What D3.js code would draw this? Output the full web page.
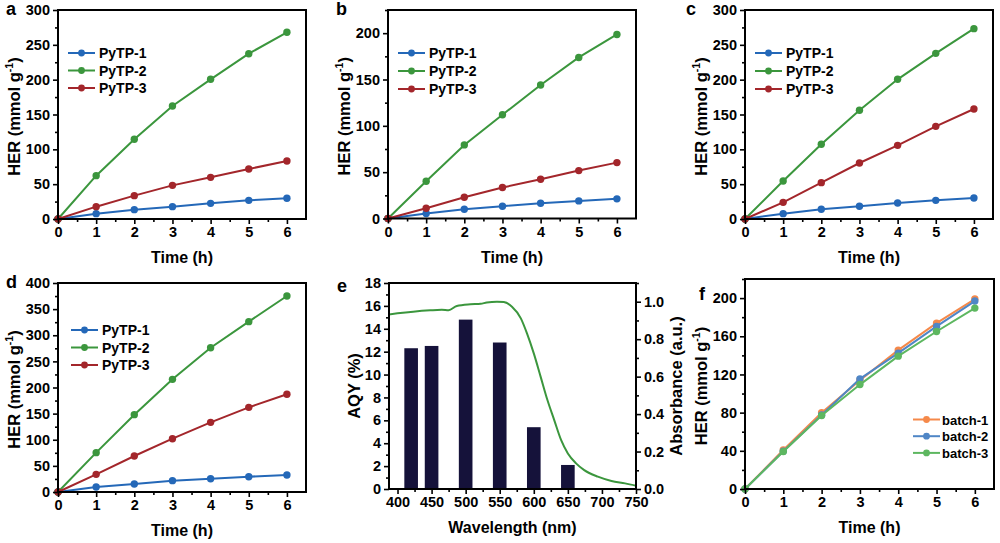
<!DOCTYPE html>
<html><head><meta charset="utf-8">
<script src="https://cdn.jsdelivr.net/npm/d3@7"></script>
<style>
body{margin:0;background:#fff;}
svg{font-family:"Liberation Sans",Arial,sans-serif;font-weight:bold;}
</style></head>
<body>
<svg id="c" width="1000" height="543"></svg>
<script>
const time = [0,1,2,3,4,5,6];
const seriesNames = ["PyTP-1","PyTP-2","PyTP-3"];
const aPyTP1 = [0,7.7,13.4,17.7,22.5,26.8,29.7];
const aPyTP2 = [0,62.2,114.4,162.2,200.5,237.3,268];
const aPyTP3 = [0,17.7,33.5,48.3,59.8,71.8,83.3];
const bPyTP1 = [0,5.4,10,13.3,16.5,19,21.2];
const bPyTP2 = [0,40.2,79.4,112,144,173.8,198.6];
const bPyTP3 = [0,11.1,23,33.4,42.4,51.7,60.3];
const cPyTP1 = [0,7.7,13.9,18.2,23,26.8,30.1];
const cPyTP2 = [0,54.5,107.2,156,200.5,237.8,273.2];
const cPyTP3 = [0,23.9,52.2,80.4,105.7,133,157.9];
const dPyTP1 = [0,9.6,15.3,21.7,25.5,29.3,32.5];
const dPyTP2 = [0,75.3,148,215.6,276.2,326,375.1];
const dPyTP3 = [0,33.8,68.9,102,133.3,162,187];
const batchNames = ["batch-1","batch-2","batch-3"];
const fBatch1 = [0,40.9,80,114,145.5,173.8,199];
const fBatch2 = [0,39.5,77.6,115.4,142.3,170.3,196.9];
const fBatch3 = [0,39.2,76.9,109.4,139.2,165,189.5];
const wavelengths = [420,450,500,550,600,650];
const aqy = [12.3,12.5,14.8,12.8,5.4,2.1];
const absWl = [387,400,423,448,465,475,487,507,522,531,546,556,568,581,590,600,610,620,630,640,650,662,674,694,714,734,752];
const absVal = [0.932,0.938,0.947,0.954,0.957,0.955,0.977,0.986,0.989,0.996,1.0,0.998,0.973,0.911,0.831,0.724,0.6,0.475,0.368,0.262,0.19,0.137,0.101,0.066,0.043,0.030,0.016];

const svg = d3.select("#c");
const colsPy = ["#2468b8","#3b963d","#a3262b"];
const colsBatch = ["#f5894a","#4f86c6","#5db760"];
const TICKF = "14.5px", TITLEF = "16px";

function frame(g, L, R, T, B){
  g.append("rect").attr("x",L).attr("y",T).attr("width",R-L).attr("height",B-T)
   .attr("fill","none").attr("stroke","#000").attr("stroke-width",2);
}
function styleText(sel){
  sel.attr("font-size",TICKF).attr("font-weight","bold").attr("fill","#000").attr("font-family","Liberation Sans, Arial");
}
function xAxis(g, x, B, ticks, minors){
  const ax = g.append("g").attr("transform",`translate(0,${B})`)
    .call(d3.axisBottom(x).tickValues(ticks).tickSize(5).tickPadding(3).tickFormat(d3.format("d")));
  ax.select(".domain").remove();
  ax.selectAll("line").attr("stroke-width",1.6);
  styleText(ax.selectAll("text"));
  const mx = g.append("g").attr("transform",`translate(0,${B})`)
    .call(d3.axisBottom(x).tickValues(minors).tickSize(3).tickFormat(""));
  mx.select(".domain").remove(); mx.selectAll("line").attr("stroke-width",1.6);
}
function yAxis(g, y, L, ticks, minors, fmt, right){
  const gen = right ? d3.axisRight(y) : d3.axisLeft(y);
  const ax = g.append("g").attr("transform",`translate(${L},0)`)
    .call(gen.tickValues(ticks).tickSize(5).tickPadding(3).tickFormat(fmt||d3.format("d")));
  ax.select(".domain").remove();
  ax.selectAll("line").attr("stroke-width",1.6);
  styleText(ax.selectAll("text"));
  const gen2 = right ? d3.axisRight(y) : d3.axisLeft(y);
  const mx = g.append("g").attr("transform",`translate(${L},0)`)
    .call(gen2.tickValues(minors).tickSize(3).tickFormat(""));
  mx.select(".domain").remove(); mx.selectAll("line").attr("stroke-width",1.6);
}
function herTitle(g, cx, cy){
  const t = g.append("text").attr("transform",`translate(${cx},${cy}) rotate(-90)`)
    .attr("text-anchor","middle").attr("font-size","16.5px");
  t.append("tspan").text("HER (mmol g");
  t.append("tspan").text("-1").attr("font-size","10.5px").attr("dy",-7);
  t.append("tspan").text(")").attr("dy",7);
}
function letter(g, s, x, y){
  g.append("text").attr("x",x).attr("y",y).attr("font-size","18px").text(s);
}

function linePanel(o){
  const g = svg.append("g");
  const x = d3.scaleLinear().domain([0,6.5]).range([o.L,o.R]);
  const y = d3.scaleLinear().domain([0,o.ymax]).range([o.B,o.T]);
  const line = d3.line().x((d,i)=>x(time[i])).y(d=>y(d));
  o.series.forEach((s,k)=>{
    g.append("path").attr("d",line(s)).attr("fill","none").attr("stroke",o.cols[k]).attr("stroke-width",2);
    g.selectAll(null).data(s).enter().append("circle")
      .attr("cx",(d,i)=>x(time[i])).attr("cy",d=>y(d)).attr("r",3.7).attr("fill",o.cols[k]);
  });
  frame(g,o.L,o.R,o.T,o.B);
  xAxis(g,x,o.B,[0,1,2,3,4,5,6],[0.5,1.5,2.5,3.5,4.5,5.5]);
  yAxis(g,y,o.L,o.yt,o.ym);
  g.append("text").attr("x",(o.L+o.R)/2).attr("y",o.B+44).attr("text-anchor","middle").attr("font-size",TITLEF).text("Time (h)");
  herTitle(g,o.L-38,(o.T+o.B)/2+2);
  o.names.forEach((n,k)=>{
    const ly = o.ly + k*o.lstep;
    g.append("line").attr("x1",o.lx).attr("x2",o.lx+27).attr("y1",ly).attr("y2",ly).attr("stroke",o.cols[k]).attr("stroke-width",2);
    g.append("circle").attr("cx",o.lx+13.5).attr("cy",ly).attr("r",3.4).attr("fill",o.cols[k]);
    g.append("text").attr("x",o.lx+(o.lgap||31)).attr("y",ly+5).attr("font-size",o.lf||"14px").text(n);
  });
  letter(g,o.letter,o.lX,o.lY);
}

const r = (a,b,s)=>d3.range(a,b+1e-9,s);
linePanel({L:58,R:306,T:10,B:219,ymax:300,yt:r(0,300,50),ym:r(25,275,50),series:[aPyTP1,aPyTP2,aPyTP3],cols:colsPy,names:seriesNames,lx:68,ly:53,lstep:17.5,letter:"a",lX:6,lY:15});
linePanel({L:388,R:636,T:10,B:218.5,ymax:225,yt:r(0,200,50),ym:r(25,225,50),series:[bPyTP1,bPyTP2,bPyTP3],cols:colsPy,names:seriesNames,lx:398,ly:53,lstep:18,letter:"b",lX:336,lY:15});
linePanel({L:745,R:993,T:10,B:219,ymax:300,yt:r(0,300,50),ym:r(25,275,50),series:[cPyTP1,cPyTP2,cPyTP3],cols:colsPy,names:seriesNames,lx:755,ly:53,lstep:18,letter:"c",lX:686,lY:15});
linePanel({L:58,R:306,T:283,B:492,ymax:400,yt:r(0,400,50),ym:r(25,375,50),series:[dPyTP1,dPyTP2,dPyTP3],cols:colsPy,names:seriesNames,lx:71,ly:330,lstep:17.5,letter:"d",lX:6,lY:288});
linePanel({L:745,R:994,T:279,B:489,ymax:220,yt:r(0,200,40),ym:r(20,220,40),series:[fBatch1,fBatch2,fBatch3],cols:colsBatch,names:batchNames,lx:913,ly:419.5,lstep:16.7,lf:"13px",lgap:29,letter:"f",lX:699,lY:300});

(function(){
  const L=389,R=636,T=283,B=489;
  const g = svg.append("g");
  const x = d3.scaleLinear().domain([387.5,750]).range([L,R]);
  const yL = d3.scaleLinear().domain([0,18]).range([B,T]);
  const yR = d3.scaleLinear().domain([0,1.1]).range([B,T]);
  const bw = x(430)-x(410);
  g.selectAll(null).data(aqy).enter().append("rect")
    .attr("x",(d,i)=>x(wavelengths[i])-bw/2).attr("width",bw)
    .attr("y",d=>yL(d)).attr("height",d=>B-yL(d)).attr("fill","#15123a");
  const pts = absWl.map((w,i)=>[w,absVal[i]]);
  g.append("defs").append("clipPath").attr("id","ce").append("rect").attr("x",L).attr("y",T).attr("width",R-L).attr("height",B-T);
  g.append("path").attr("clip-path","url(#ce)")
    .attr("d",d3.line().curve(d3.curveMonotoneX).x(p=>x(p[0])).y(p=>yR(p[1]))(pts))
    .attr("fill","none").attr("stroke","#3b963d").attr("stroke-width",2);
  frame(g,L,R,T,B);
  xAxis(g,x,B,r(400,750,50),r(425,725,50));
  yAxis(g,yL,L,r(0,18,2),r(1,17,2));
  yAxis(g,yR,R,r(0,1.0,0.2),r(0.1,1.1,0.2),d3.format(".1f"),true);
  g.append("text").attr("x",(L+R)/2).attr("y",B+44).attr("text-anchor","middle").attr("font-size",TITLEF).text("Wavelength (nm)");
  g.append("text").attr("transform",`translate(${L-29},${(T+B)/2}) rotate(-90)`).attr("text-anchor","middle").attr("font-size","16.5px").text("AQY (%)");
  g.append("text").attr("transform",`translate(${R+46},${(T+B)/2}) rotate(-90)`).attr("text-anchor","middle").attr("font-size","16.5px").text("Absorbance (a.u.)");
  letter(g,"e",337,292);
})();
</script>
</body></html>
